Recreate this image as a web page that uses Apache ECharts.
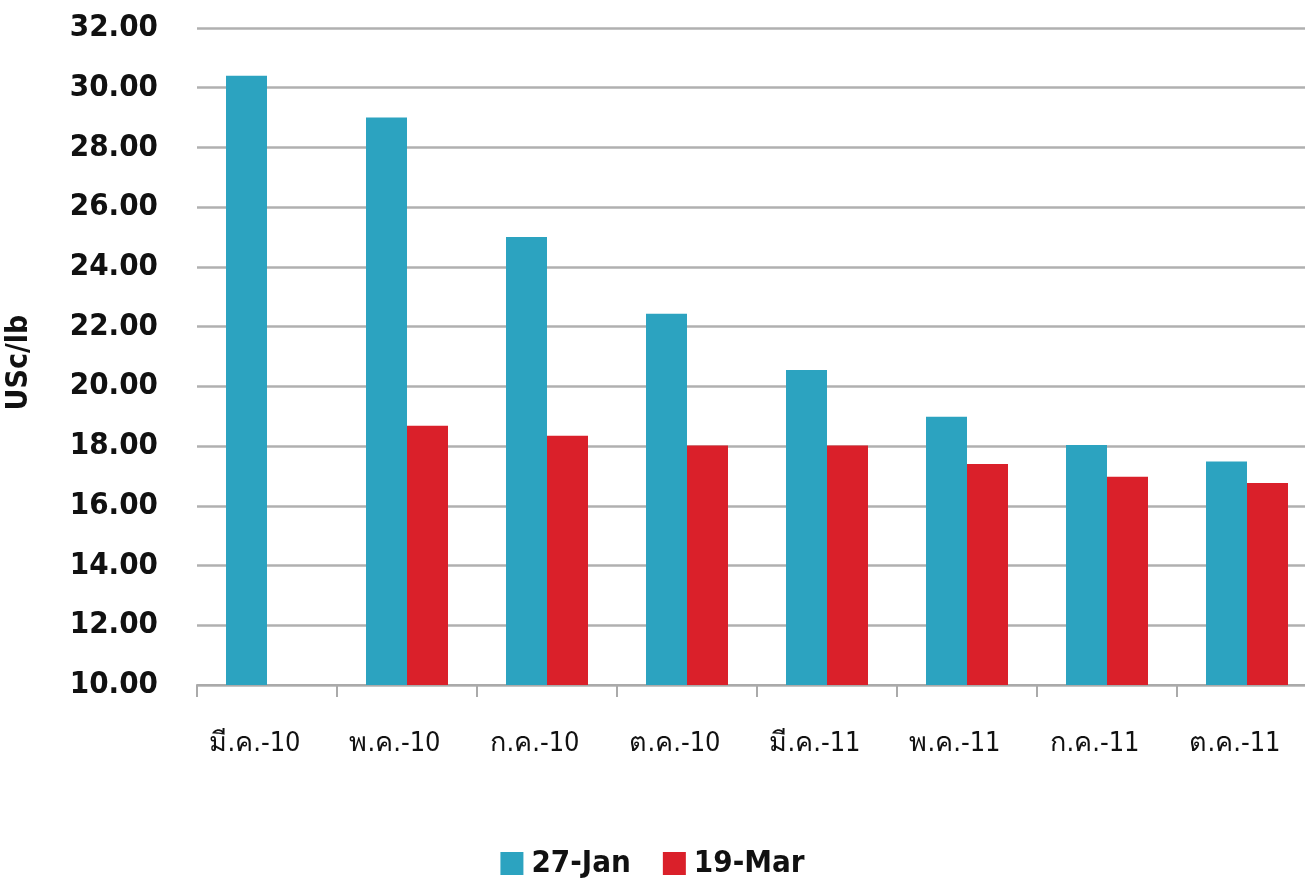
<!DOCTYPE html>
<html>
<head>
<meta charset="utf-8">
<script src="https://cdn.jsdelivr.net/npm/echarts@6/dist/echarts.min.js"></script>
<style>
  html, body { margin: 0; padding: 0; background: #fff; }
  #main { width: 1305px; height: 889px; }
</style>
</head>
<body>
<div id="main"></div>
<script>
// ข้อมูลกราฟ
var categories = ['มี.ค.-10', 'พ.ค.-10', 'ก.ค.-10', 'ต.ค.-10', 'มี.ค.-11', 'พ.ค.-11', 'ก.ค.-11', 'ต.ค.-11']
var jan27 = [30.4, 29.0, 25.0, 22.43, 20.55, 18.98, 18.04, 17.48]
var mar19 = [null, 18.68, 18.35, 18.02, 18.02, 17.4, 16.97, 16.76]
var seriesNames = ['27-Jan', '19-Mar']

var font = '"DejaVu Sans Condensed", "DejaVu Sans", "Noto Sans", sans-serif'
var myChart = echarts.init(document.getElementById('main'))
myChart.setOption({
  animation: false,
  grid: { left: 197, right: -12, top: 28, bottom: 204, outerBoundsMode: 'none' },
  legend: {
    bottom: 5,
    left: 'center',
    itemWidth: 23,
    itemHeight: 23,
    itemGap: 32,
    icon: 'rect',
    textStyle: { fontFamily: font, fontSize: 31, fontWeight: 'bold', color: '#111', padding: [0, 0, 0, 3] },
    data: seriesNames
  },
  xAxis: {
    type: 'category',
    data: categories,
    axisLine: { lineStyle: { color: '#aaa', width: 2 } },
    axisTick: { show: true, length: 12, lineStyle: { color: '#aaa', width: 2 } },
    axisLabel: {
      margin: 45,
      fontFamily: font,
      fontSize: 27,
      color: '#111',
      interval: 0,
      padding: [0, 24, 0, 0]
    }
  },
  yAxis: {
    type: 'value',
    min: 10,
    max: 32,
    interval: 2,
    name: 'USc/lb',
    nameLocation: 'middle',
    nameGap: 163,
    nameTextStyle: { fontFamily: font, fontSize: 30, fontWeight: 'bold', color: '#111', padding: [0, 12, 0, 0] },
    axisLine: { show: false },
    axisTick: { show: false },
    splitLine: { lineStyle: { color: '#b0b0b0', width: 2.5 } },
    axisLabel: {
      margin: 39,
      fontFamily: font,
      fontSize: 31,
      fontWeight: 'bold',
      color: '#111',
      formatter: function (v) { return v.toFixed(2) }
    }
  },
  series: [
    {
      name: seriesNames[0],
      type: 'bar',
      data: jan27,
      barWidth: 41,
      barGap: '0%',
      itemStyle: { color: '#2ca3c0' }
    },
    {
      name: seriesNames[1],
      type: 'bar',
      data: mar19,
      barWidth: 41,
      barGap: '0%',
      itemStyle: { color: '#da202a' }
    }
  ]
})
</script>
</body>
</html>
